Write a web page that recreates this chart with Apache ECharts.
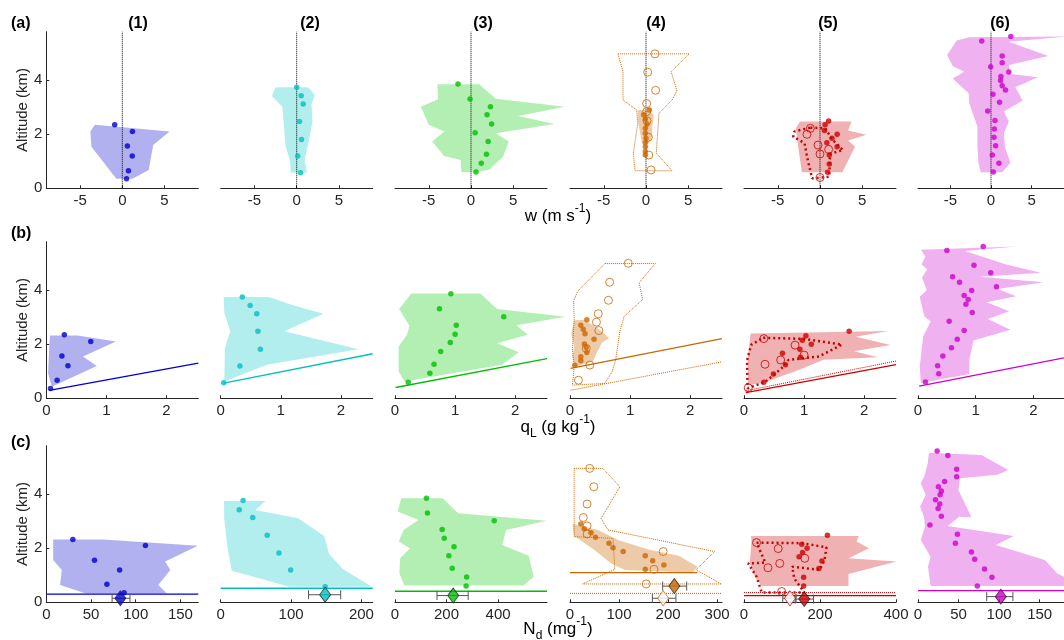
<!DOCTYPE html>
<html lang="en">
<head>
<meta charset="UTF-8">
<title>profiles</title>
<script src="https://cdnjs.cloudflare.com/ajax/libs/echarts/6.0.0/echarts.min.js"></script>
<style>
  html, body { margin: 0; padding: 0; background: #fff; }
</style>
</head>
<body>
<div id="main" style="width:1064px;height:640px;"></div>
<script>
// ---- row (a): vertical velocity w ----
var a1Fill = [[-3.25,2.35],[5.6,2.1],[3.66,1.6],[3.13,0.68],[1.2,0.35],[-0.7,0.35],[-3.66,1.54],[-3.78,2.1]];
var a1Dots = [[-0.9,2.35],[1.2,2.1],[0.6,1.57],[1.18,1.2],[0.73,0.65],[0.5,0.35]];
var a2Fill = [[-2.52,3.74],[1.34,3.74],[2.15,3.46],[1.75,3.09],[1.87,2.47],[1.46,1.79],[0.93,1.05],[1.22,0.58],[-0.69,0.58],[-0.81,1.05],[-1.3,1.54],[-1.5,2.28],[-1.7,3.02],[-2.93,3.42]];
var a2Dots = [[0,3.74],[0.53,3.43],[0.77,3.12],[0.33,2.47],[0.57,1.81],[0.12,1.2],[0.45,0.58]];
var a3Fill = [[-3.98,3.85],[0.98,3.85],[2.93,3.32],[11.1,3.02],[5.57,2.68],[9.9,2.38],[2.93,2.04],[4.47,1.73],[3.8,1.17],[2.1,0.68],[0.4,0.59],[-1.14,0.59],[-1.2,1.05],[-3.17,1.2],[-4.6,1.73],[-3.17,2.1],[-5.0,2.35],[-5.93,3.02],[-3.9,3.3]];
var a3Dots = [[-1.54,3.86],[-0.12,3.31],[2.3,3.02],[1.9,2.72],[2.44,2.38],[0.49,2.06],[2.03,1.73],[1.83,1.26],[1.22,0.93],[0.6,0.6]];
var a4Out = [[-3.33,4.98],[5.12,4.98],[2.97,4.32],[3.66,3.62],[3.09,3.27],[1.54,2.78],[1.22,1.3],[3.09,0.65],[-1.3,0.65],[-1.5,1.3],[-0.98,2.41],[-1.1,2.9],[-2.72,3.27],[-2.72,4.32],[-3.33,4.98]];
var a4Fill = [[-0.98,2.9],[0,2.9],[0.93,2.72],[0.73,2.28],[0.73,1.91],[0.33,1.67],[-0.49,1.67],[-0.69,2.04],[-0.98,2.53]];
var a4Open = [[1.06,4.98],[0.2,4.3],[1.14,3.63],[0.08,3.14],[0.08,2.84],[0.12,2.5],[0.28,1.89],[0.33,1.23],[0.6,0.68]];
var a4Dots = [[0.4,2.9],[-0.28,2.72],[-0.08,2.56],[0.12,2.38],[-0.08,2.22],[-0.08,2.04],[0,1.85],[-0.08,1.69],[-0.08,1.54],[-0.08,1.36],[-0.08,1.23]];
var a5Fill = [[-2.36,2.47],[3.74,2.47],[3.33,2.14],[5.49,1.98],[3.33,1.77],[4.15,1.54],[2.64,0.59],[-2.15,0.59],[-2.56,1.48],[-2.85,2.22]];
var a5Out = [[-1.14,2.25],[0.61,2.22],[1.5,1.79],[2.72,1.42],[1.18,1.27],[1.1,0.43],[-0.93,0.37],[-1.54,1.17],[-1.83,1.67],[-3.17,1.91],[-3.05,2.1],[-1.14,2.25]];
var a5Open = [[-1.14,2.22],[-1.54,2.0],[-0.24,1.6],[1.02,1.44],[0,1.27],[0,0.4]];
var a5Dots = [[1.02,2.49],[0.61,2.35],[0.53,2.14],[2.03,2.0],[1.42,1.85],[0.81,1.69],[2.03,1.54],[1.1,1.23],[1.1,0.9],[0.89,0.59]];
var a6Fill = [[-4.23,5.47],[-2.68,5.59],[9.1,5.62],[2.2,5.43],[7.07,4.9],[2.2,4.57],[2.4,4.23],[5.77,4.11],[3.0,3.74],[3.9,3.25],[1.59,2.84],[2.2,2.47],[1.59,2.04],[1.7,1.54],[2.4,0.95],[1.38,0.59],[-1.26,0.59],[-1.54,0.93],[-1.67,1.54],[-1.67,2.28],[-2.68,3.15],[-2.76,3.52],[-4.72,4.07],[-3.3,4.32],[-4.72,4.53],[-5.4,4.94]];
var a6Dots = [[2.44,5.62],[-1.14,5.46],[1.38,4.9],[1.38,4.65],[-0.04,4.5],[2.2,4.31],[1.22,4.14],[1.18,3.99],[1.38,3.8],[1.79,3.64],[0.24,3.48],[1.06,3.19],[-0.4,2.86],[0.49,2.51],[0.41,2.2],[0.37,1.89],[0.57,1.58],[0.16,1.23],[0.98,0.93],[0.28,0.6]];
var zeroLine = [[0,0],[0,5.8]];

// ---- row (b): liquid water qL ----
var b1Fill = [[0.06,2.33],[0.52,2.33],[1.16,2.1],[0.61,1.55],[0.84,1.2],[0.09,0.43],[0.03,0.93],[0.05,1.92]];
var b1Dots = [[0.3,2.35],[0.74,2.1],[0.26,1.57],[0.36,1.21],[0.18,0.67],[0.07,0.36]];
var b1Line = [[0.05,0.29],[2.53,1.3]];
var b2Fill = [[0.05,3.75],[0.8,3.75],[1.23,3.43],[1.71,3.13],[1.06,2.48],[2.29,1.82],[0.77,1.24],[0.06,0.62],[0.07,1.86],[0.16,2.48],[0.06,3.16]];
var b2Dots = [[0.36,3.75],[0.49,3.44],[0.6,3.13],[0.62,2.48],[0.66,1.82],[0.32,1.2],[0.05,0.58]];
var b2Line = [[0.05,0.56],[2.53,1.65]];
var b3Fill = [[0.27,3.88],[1.42,3.88],[1.7,3.31],[2.84,3.02],[2.02,2.71],[2.21,2.35],[1.7,2.04],[2.06,1.71],[1.78,1.24],[0.16,0.62],[0.06,0.99],[0.06,1.92],[0.2,2.35],[0.24,2.69],[0.07,3.31]];
var b3Dots = [[0.93,3.87],[0.74,3.32],[1.81,3.02],[1.02,2.71],[1.0,2.37],[0.92,2.07],[0.76,1.73],[0.65,1.26],[0.58,0.93],[0.22,0.59]];
var b3Line = [[0.01,0.4],[2.53,1.47]];
var b4Out = [[0.58,4.99],[1.42,4.99],[1.15,4.28],[1.21,3.66],[0.9,3.03],[0.83,2.48],[0.76,1.42],[0.7,0.98],[0.58,0.55],[0.04,0.49],[0.07,1.17],[0.04,1.79],[0.07,2.91],[0.06,3.6],[0.13,3.97],[0.58,4.99]];
var b4Fill = [[0.07,2.89],[0.24,2.91],[0.5,2.53],[0.65,2.22],[0.53,2.06],[0.44,1.66],[0.38,1.36],[0.08,1.17],[0.04,1.54],[0.07,1.92],[0.02,2.4]];
var b4Open = [[0.97,5.0],[0.66,4.3],[0.64,3.63],[0.47,3.13],[0.44,2.82],[0.48,2.51],[0.27,1.85],[0.33,1.23],[0.14,0.67]];
var b4Dots = [[0.28,2.91],[0.18,2.71],[0.22,2.56],[0.25,2.39],[0.4,2.19],[0.24,2.01],[0.27,1.88],[0.28,1.7],[0.18,1.54],[0.18,1.39],[0.08,1.22]];
var b4Line = [[0.01,1.11],[2.53,2.21]];
var b4LineDot = [[0.01,0.3],[2.53,1.35]];
var b5Fill = [[0.11,2.4],[2.4,2.49],[1.86,2.28],[2.44,1.97],[1.83,1.74],[2.23,1.52],[1.32,1.43],[0.92,1.06],[0.3,0.56],[0.07,0.49],[0.06,1.42]];
var b5Out = [[0.32,2.24],[1.0,2.2],[1.63,1.99],[1.25,1.55],[0.74,1.42],[0.62,1.1],[0.35,0.6],[0.06,0.37],[0.05,1.4],[0.12,1.98],[0.32,2.24]];
var b5Open = [[0.33,2.21],[0.85,1.97],[1.0,1.6],[0.61,1.42],[0.35,1.26],[0.07,0.39]];
var b5Dots = [[1.75,2.48],[1.03,2.32],[0.97,2.15],[1.12,2.0],[0.93,1.82],[0.64,1.67],[0.94,1.52],[0.69,1.24],[0.49,0.9],[0.33,0.59]];
var b5Line = [[0.03,0.21],[2.53,1.25]];
var b5LineDot = [[0.03,0.28],[2.53,1.38]];
var b6Fill = [[0.05,5.5],[1.7,5.62],[0.81,5.46],[1.53,4.96],[2.13,4.65],[1.07,4.5],[2.18,4.3],[1.38,4.05],[1.7,3.78],[1.19,3.56],[1.58,3.22],[1.21,2.94],[1.6,2.54],[0.96,2.14],[0.89,1.42],[0.89,0.9],[0.05,0.57],[0.03,1.17],[0.09,2.29],[0.22,2.85],[0.11,3.03],[0.03,3.76],[0.15,4.0],[0.07,4.47],[0.16,4.78],[0.06,4.96],[0.13,5.25]];
var b6Dots = [[1.13,5.62],[0.5,5.47],[0.97,4.93],[1.26,4.65],[0.6,4.5],[0.72,4.3],[1.36,4.13],[0.93,3.99],[0.8,3.81],[0.87,3.66],[0.83,3.48],[0.94,3.18],[0.54,2.85],[0.8,2.51],[0.68,2.19],[0.58,1.87],[0.43,1.57],[0.34,1.21],[0.36,0.91],[0.13,0.6]];
var b6Line = [[0.02,0.45],[2.53,1.5]];

// ---- row (c): droplet number Nd ----
var c1Fill = [[7.7,2.33],[63.6,2.33],[169.5,2.09],[132.9,1.51],[138.7,1.2],[125.2,0.64],[134.8,0.33],[44.3,0.33],[15.4,0.64],[17.3,1.2],[7.7,1.57]];
var c1Dots = [[29.7,2.33],[110.9,2.1],[53.9,1.56],[82,1.2],[67.8,0.67],[87,0.35]];
var c1Base = [[0,0.3],[170,0.3]];
var c1Mean = [[82.8,0.15]];
var c1Err = [[73.6,93.6,0.15]];
var c2Fill = [[4.9,3.75],[63.7,3.75],[49,3.42],[110,3.11],[147,2.46],[154,1.79],[174,1.22],[215,0.58],[98,0.58],[15.7,1.17],[9.8,2.0],[4.9,3.11]];
var c2Dots = [[31.8,3.77],[26.4,3.43],[45.5,3.14],[66.1,2.48],[82.8,1.83],[99.4,1.2],[148.4,0.58]];
var c2Base = [[0,0.52],[216,0.52]];
var c2Mean = [[148.4,0.28]];
var c2Err = [[124.8,170.5,0.28]];
var c3Fill = [[24,3.85],[185,3.85],[245,3.3],[588,3.02],[432,2.68],[416,2.12],[519,1.72],[539,0.95],[499,0.62],[37,0.62],[17,1.07],[20,1.63],[58,2.0],[15,2.25],[33,2.68],[91,3.05],[11,3.36]];
var c3Dots = [[122,3.85],[126,3.31],[385,3.02],[183,2.7],[191,2.37],[229,2.06],[209,1.72],[222,1.26],[278,0.94],[276,0.6]];
var c3Base = [[0,0.41],[590,0.41]];
var c3Mean = [[226,0.25]];
var c3Err = [[163,284,0.25]];
var c4Out = [[8.5,4.96],[67,4.96],[101.7,4.28],[63.6,3.11],[77.4,2.68],[294.9,1.88],[256.9,1.2],[308.7,0.68],[25.6,0.68],[91.3,1.22],[87.8,2.37],[8.5,2.43],[8.5,3.91],[8.5,4.96]];
var c4Fill = [[5.1,2.9],[57,2.68],[98,2.31],[160,1.96],[222,1.72],[260,1.32],[250,1.1],[112,1.2],[84,1.44],[50,1.94],[8.5,2.46]];
var c4Open = [[40.2,4.96],[48.6,4.28],[34.8,3.64],[27.1,3.14],[34.8,2.83],[34.8,2.53],[190,1.88],[171.3,1.22],[155.5,0.68]];
var c4Dots = [[22.1,2.9],[29,2.72],[42.9,2.58],[52,2.41],[79.5,2.19],[87.8,2.02],[108.5,1.88],[153.5,1.72],[168.7,1.54],[191.5,1.38],[153.5,1.22]];
var c4Base = [[0,1.1],[260,1.1]];
var c4BaseDot = [[0,0.33],[310,0.33]];
var c4Mean = [[212.8,0.6]];
var c4Err = [[189,238,0.6]];
var c4MeanOpen = [[190,0.15]];
var c4ErrOpen = [[168,216,0.15]];
var c5Fill = [[18,2.46],[302,2.46],[296,2.25],[329,2.0],[275,1.63],[401,1.51],[275,1.05],[275,0.6],[46.7,0.6],[28.8,0.95],[15.3,1.44],[19.8,2.31]];
var c5Out = [[33,2.21],[150,2.19],[217,2.04],[212,1.57],[199,1.2],[127,1.32],[132,0.89],[159,0.36],[46.7,0.36],[33,0.95],[11,1.44],[56,1.47],[33,2.21]];
var c5Open = [[33,2.21],[90,1.99],[160,1.63],[94,1.44],[63,1.28],[99,0.4]];
var c5Dots = [[219.5,2.48],[152,2.15],[166,2.0],[154,1.84],[145,1.69],[205,1.53],[197,1.25],[157,0.93],[157,0.6]];
var c5Base = [[0,0.25],[400,0.25]];
var c5BaseDot = [[0,0.36],[400,0.36]];
var c5Mean = [[158.6,0.12]];
var c5Err = [[134.5,183,0.12]];
var c5MeanOpen = [[121,0.15]];
var c5ErrOpen = [[102,137,0.15]];
var c6Fill = [[13.5,5.54],[78,5.46],[111.4,4.9],[98,4.72],[51.8,4.59],[49.8,4.16],[65.9,3.15],[51,3.17],[36.5,2.83],[118,2.46],[96,2.12],[156.4,1.57],[171.7,1.07],[180,0.95],[182,0.6],[15.5,0.6],[12.3,1.32],[15.5,1.69],[3.4,2.31],[8.6,2.8],[7.5,3.15],[2.6,3.54],[9.5,3.98],[3.4,4.41],[8,4.68],[12,5.15]];
var c6Dots = [[23.6,5.6],[36.8,5.44],[47.7,4.93],[47.7,4.65],[32.8,4.47],[25.2,4.28],[28.8,4.12],[27.3,3.98],[21.6,3.8],[26.8,3.64],[24.8,3.47],[28.8,3.19],[14.7,2.86],[48.6,2.52],[46.1,2.19],[65.9,1.86],[69.9,1.59],[82,1.23],[91.2,0.93],[73.1,0.6]];
var c6Base = [[0,0.43],[180,0.43]];
var c6Mean = [[102,0.21]];
var c6Err = [[84.7,117,0.21]];

// axis ranges and tick labels
var wTicks = [-5, 0, 5];
var qTicks = [0, 1, 2];
var ndMax = [170, 216, 590, 310, 400, 180];
var ndTicks = [[0,50,100,150],[0,100,200],[0,200,400],[0,100,200,300],[0,200,400],[0,50,100,150]];
var altTicks = [0, 2, 4];

var dotColors = ['#0000CD', '#00BFBF', '#00BF00', '#CC6600', '#CC0000', '#CC00CC'];
var fillColors = ['#B1B1EF', '#B2EEEE', '#B3EFB3', '#EECBA8', '#EFB1B1', '#EFB1EF'];

var FONT = '"Liberation Sans", Arial, Helvetica, sans-serif';
var colLeft = [46.3, 220.7, 395, 570, 744, 918];
var rowTop = [31.7, 241.7, 445.7];
var PW = 152, PH = 156.6;

var chart = echarts.init(document.getElementById('main'), null, {renderer: 'canvas'});

var grids = [], xAxes = [], yAxes = [], series = [];

function polySeries(idx, pts, color) {
    return {
        type: 'custom', xAxisIndex: idx, yAxisIndex: idx, silent: true, z: 1,
        data: pts,
        renderItem: function (params, api) {
            if (params.dataIndex !== 0) return null;
            return {
                type: 'polygon',
                shape: {points: pts.map(function (p) { return api.coord(p); })},
                style: {fill: color}
            };
        }
    };
}
function lineSeries(idx, pts, color, width, type, z) {
    return {
        type: 'line', xAxisIndex: idx, yAxisIndex: idx, silent: true, z: z || 2,
        data: pts, showSymbol: false, symbol: 'none', clip: false,
        lineStyle: {color: color, width: width, type: type || 'solid'}
    };
}
function dotSeries(idx, pts, color) {
    return {
        type: 'scatter', xAxisIndex: idx, yAxisIndex: idx, silent: true, z: 4,
        data: pts, symbol: 'circle', symbolSize: 5.5, itemStyle: {color: color}
    };
}
function openSeries(idx, pts, color) {
    return {
        type: 'scatter', xAxisIndex: idx, yAxisIndex: idx, silent: true, z: 4,
        data: pts, symbol: 'circle', symbolSize: 8,
        itemStyle: {color: 'rgba(0,0,0,0)', borderColor: color, borderWidth: 1}
    };
}
function errSeries(idx, pts) {
    return {
        type: 'custom', xAxisIndex: idx, yAxisIndex: idx, silent: true, z: 5,
        data: pts, encode: {x: [0, 1], y: 2},
        renderItem: function (params, api) {
            var y = api.value(2);
            var p1 = api.coord([api.value(0), y]);
            var p2 = api.coord([api.value(1), y]);
            var h = 4.5;
            var st = {stroke: '#555', lineWidth: 1};
            return {type: 'group', children: [
                {type: 'line', shape: {x1: p1[0], y1: p1[1], x2: p2[0], y2: p2[1]}, style: st},
                {type: 'line', shape: {x1: p1[0], y1: p1[1] - h, x2: p1[0], y2: p1[1] + h}, style: st},
                {type: 'line', shape: {x1: p2[0], y1: p2[1] - h, x2: p2[0], y2: p2[1] + h}, style: st}
            ]};
        }
    };
}
function diamondSeries(idx, pts, fill, edge) {
    return {
        type: 'scatter', xAxisIndex: idx, yAxisIndex: idx, silent: true, z: 6,
        data: pts, symbol: 'diamond', symbolSize: [11, 15],
        itemStyle: {color: fill, borderColor: edge, borderWidth: 0.9}
    };
}

var axisCol = '#262626';
for (var r = 0; r < 3; r++) {
    for (var c = 0; c < 6; c++) {
        var idx = r * 6 + c;
        grids.push({left: colLeft[c], top: rowTop[r], width: PW, height: PH, containLabel: false});
        var xmin, xmax, ticks;
        if (r === 0) { xmin = -9; xmax = 9; ticks = wTicks; }
        else if (r === 1) { xmin = 0; xmax = 2.53; ticks = qTicks; }
        else { xmin = 0; xmax = ndMax[c]; ticks = ndTicks[c]; }
        xAxes.push({
            gridIndex: idx, type: 'value', min: xmin, max: xmax,
            axisLine: {show: true, onZero: false, lineStyle: {color: axisCol, width: 1}},
            axisTick: {show: true, inside: true, length: 3, customValues: ticks, lineStyle: {color: axisCol}},
            axisLabel: {customValues: ticks, fontSize: 15, color: axisCol, margin: 5, fontFamily: FONT},
            splitLine: {show: false}
        });
        yAxes.push({
            gridIndex: idx, type: 'value', min: 0, max: 5.8, show: c === 0,
            name: c === 0 ? 'Altitude (km)' : '', nameLocation: 'middle', nameGap: 13,
            nameTextStyle: {fontSize: 15, color: axisCol, fontFamily: FONT},
            axisLine: {show: true, onZero: false, lineStyle: {color: axisCol, width: 1}},
            axisTick: {show: true, inside: true, length: 3, customValues: altTicks, lineStyle: {color: axisCol}},
            axisLabel: {customValues: altTicks, fontSize: 15, color: axisCol, margin: 4, fontFamily: FONT},
            splitLine: {show: false}
        });
    }
}

// row a
var aFill = [a1Fill, a2Fill, a3Fill, a4Fill, a5Fill, a6Fill];
var aDots = [a1Dots, a2Dots, a3Dots, a4Dots, a5Dots, a6Dots];
for (var i = 0; i < 6; i++) {
    series.push(polySeries(i, aFill[i], fillColors[i]));
    series.push(lineSeries(i, zeroLine, '#000', 1, 'dotted', 3));
    series.push(dotSeries(i, aDots[i], dotColors[i]));
}
series.push(lineSeries(3, a4Out, dotColors[3], 1, 'dotted'));
series.push(openSeries(3, a4Open, dotColors[3]));
series.push(lineSeries(4, a5Out, dotColors[4], 2.5, [2, 3]));
series.push(openSeries(4, a5Open, dotColors[4]));

// row b
var bFill = [b1Fill, b2Fill, b3Fill, b4Fill, b5Fill, b6Fill];
var bDots = [b1Dots, b2Dots, b3Dots, b4Dots, b5Dots, b6Dots];
var bLine = [b1Line, b2Line, b3Line, b4Line, b5Line, b6Line];
for (var i = 0; i < 6; i++) {
    series.push(polySeries(6 + i, bFill[i], fillColors[i]));
    series.push(lineSeries(6 + i, bLine[i], dotColors[i], 1.3));
    series.push(dotSeries(6 + i, bDots[i], dotColors[i]));
}
series.push(lineSeries(9, b4Out, dotColors[3], 1, 'dotted'));
series.push(lineSeries(9, b4LineDot, dotColors[3], 1, 'dotted'));
series.push(openSeries(9, b4Open, dotColors[3]));
series.push(lineSeries(10, b5Out, dotColors[4], 2.5, [2, 3]));
series.push(lineSeries(10, b5LineDot, dotColors[4], 1, 'dotted'));
series.push(openSeries(10, b5Open, dotColors[4]));

// row c
var cFill = [c1Fill, c2Fill, c3Fill, c4Fill, c5Fill, c6Fill];
var cDots = [c1Dots, c2Dots, c3Dots, c4Dots, c5Dots, c6Dots];
var cBase = [c1Base, c2Base, c3Base, c4Base, c5Base, c6Base];
var cMean = [c1Mean, c2Mean, c3Mean, c4Mean, c5Mean, c6Mean];
var cErr = [c1Err, c2Err, c3Err, c4Err, c5Err, c6Err];
for (var i = 0; i < 6; i++) {
    series.push(polySeries(12 + i, cFill[i], fillColors[i]));
    series.push(lineSeries(12 + i, cBase[i], dotColors[i], 1.3));
    series.push(dotSeries(12 + i, cDots[i], dotColors[i]));
    series.push(errSeries(12 + i, cErr[i]));
    series.push(diamondSeries(12 + i, cMean[i], dotColors[i], '#222'));
}
series.push(lineSeries(15, c4Out, dotColors[3], 1, 'dotted'));
series.push(lineSeries(15, c4BaseDot, dotColors[3], 1, 'dotted'));
series.push(openSeries(15, c4Open, dotColors[3]));
series.push(errSeries(15, c4ErrOpen));
series.push(diamondSeries(15, c4MeanOpen, '#fff', dotColors[3]));
series.push(lineSeries(16, c5Out, dotColors[4], 2.5, [2, 3]));
series.push(lineSeries(16, c5BaseDot, dotColors[4], 1, 'dotted'));
series.push(openSeries(16, c5Open, dotColors[4]));
series.push(errSeries(16, c5ErrOpen));
series.push(diamondSeries(16, c5MeanOpen, '#fff', dotColors[4]));

// texts
var graphics = [];
var rowLabels = ['(a)', '(b)', '(c)'];
var rowLabelY = [24, 234, 443];
rowLabels.forEach(function (t, k) {
    graphics.push({type: 'text', x: 11, y: rowLabelY[k], style: {text: t, font: 'bold 16px ' + FONT, fill: '#000', textVerticalAlign: 'middle'}});
});
var colLabelX = [138, 310, 483, 656, 828, 1000];
colLabelX.forEach(function (x, k) {
    graphics.push({type: 'text', x: x, y: 24, style: {text: '(' + (k + 1) + ')', font: 'bold 16px ' + FONT, fill: '#000', textAlign: 'center', textVerticalAlign: 'middle'}});
});
var richBase = {
    n: {fontSize: 17, fontFamily: FONT, color: '#000', lineHeight: 26},
    sup: {fontSize: 12, fontFamily: FONT, color: '#000', verticalAlign: 'top', lineHeight: 26},
    sub: {fontSize: 12, fontFamily: FONT, color: '#000', verticalAlign: 'bottom', lineHeight: 26}
};
function title(txt, y) {
    return {type: 'text', x: 558, y: y, style: {text: txt, rich: richBase, textAlign: 'center', textVerticalAlign: 'middle'}};
}
graphics.push(title('{n|w (m s}{sup|-1}{n|)}', 216));
graphics.push(title('{n|q}{sub|L}{n| (g kg}{sup|-1}{n|)}', 427));
graphics.push(title('{n|N}{sub|d}{n| (mg}{sup|-1}{n|)}', 629));

chart.setOption({
    backgroundColor: '#fff',
    animation: false,
    textStyle: {fontFamily: FONT},
    grid: grids,
    xAxis: xAxes,
    yAxis: yAxes,
    series: series,
    graphic: graphics
});
</script>
</body>
</html>
